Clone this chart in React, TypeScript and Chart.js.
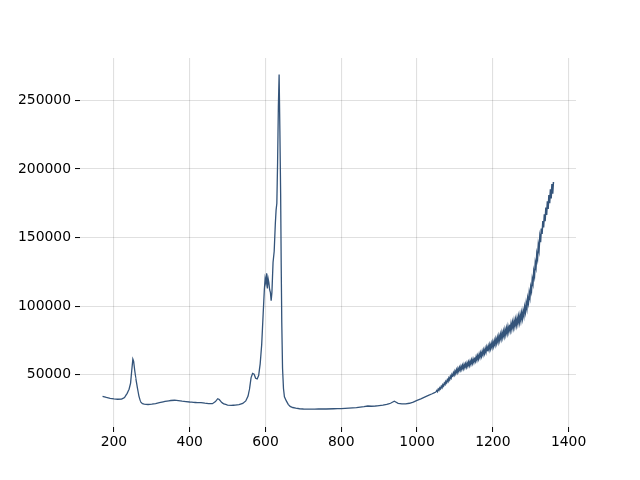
import React, { useEffect, useRef } from "react";
import { Chart, registerables } from "chart.js";

Chart.register(...registerables);

const wavenumber: number[] = [
  170, 180, 190, 200, 210, 220, 228, 235, 240, 244, 247, 250, 252, 255, 258, 262, 266, 270, 275, 280,
  290, 300, 310, 320, 330, 340, 350, 360, 370, 380, 390, 400, 410, 420, 430, 440, 450, 460, 468, 474,
  478, 484, 490, 500, 510, 520, 530, 540, 548, 554, 558, 562, 566, 570, 574, 578, 582, 586, 590, 594,
  597, 599, 601, 603, 605, 607, 609, 611, 613, 615, 617, 620, 623, 626, 628, 630, 632, 634, 636, 638,
  640, 641.5, 643, 645, 647.5, 650, 655, 660, 665, 672, 680, 690, 700, 720, 740, 760, 780, 800, 820, 840,
  860, 870, 880, 890, 900, 910, 920, 930, 936, 940, 945, 950, 960, 970, 980, 990, 1000, 1010, 1020, 1030,
  1040, 1050,
  1052, 1054, 1056, 1058, 1060, 1062, 1064, 1066, 1068, 1070, 1072, 1074, 1076, 1078, 1080, 1082, 1084, 1086, 1088, 1090,
  1092, 1094, 1096, 1098, 1100, 1102, 1104, 1106, 1108, 1110, 1112, 1114, 1116, 1118, 1120, 1122, 1124, 1126, 1128, 1130,
  1132, 1134, 1136, 1138, 1140, 1142, 1144, 1146, 1148, 1150, 1152, 1154, 1156, 1158, 1160, 1162, 1164, 1166, 1168, 1170,
  1172, 1174, 1176, 1178, 1180, 1182, 1184, 1186, 1188, 1190, 1192, 1194, 1196, 1198, 1200, 1202, 1204, 1206, 1208, 1210,
  1212, 1214, 1216, 1218, 1220, 1222, 1224, 1226, 1228, 1230, 1232, 1234, 1236, 1238, 1240, 1242, 1244, 1246, 1248, 1250,
  1252, 1254, 1256, 1258, 1260, 1262, 1264, 1266, 1268, 1270, 1272, 1274, 1276, 1278, 1280, 1282, 1284, 1286, 1288, 1290,
  1292, 1294, 1296, 1298, 1300, 1302, 1304, 1306, 1308, 1310, 1312, 1314, 1316, 1318, 1320, 1322, 1324, 1326, 1328, 1330,
  1332, 1334, 1336, 1338, 1340, 1342, 1344, 1346, 1348, 1350, 1352, 1354, 1356, 1358, 1360,
];

const intensity: number[] = [
  34300, 33500, 32900, 32500, 32200, 32300, 33500, 36500, 39500, 44000, 53000, 61500, 60000, 53000, 47000, 40500, 34500, 30500, 29000, 28600,
  28400, 28600, 29100, 29700, 30300, 30900, 31300, 31500, 31200, 30800, 30500, 30200, 30000, 29700, 29800, 29400, 29100, 29000, 30500, 32600,
  32000, 30000, 28800, 28000, 27700, 28000, 28300, 29200, 31000, 34500, 40000, 48000, 51000, 50500, 47500, 47000, 49500, 58000, 72000, 95000,
  112000, 120000, 117000, 124000, 113000, 120000, 117000, 112000, 110000, 104000, 110000, 132000, 140000, 160000, 170000, 175000, 205000, 245000, 268800, 228000,
  182000, 130000, 88000, 55000, 40000, 34000, 31000, 28500, 27000, 26200, 25700, 25300, 25100, 25000, 25100, 25100, 25300, 25400, 25700, 26100,
  26800, 27300, 27100, 27300, 27600, 27900, 28500, 29300, 30200, 30800, 30000, 29200, 28800, 28900, 29300, 30100, 31400, 32500, 33800, 35000,
  36200, 37500,
  38560, 37820, 39580, 38840, 40500, 39740, 41580, 40720, 42760, 41900, 43900, 43000, 45200, 44200, 46400, 45300, 47600, 46400, 48900, 47700,
  50100, 48800, 51400, 50000, 52600, 50960, 53620, 51780, 54540, 52700, 55340, 53480, 56120, 54060, 56700, 54600, 57400, 55300, 57900, 55800,
  58600, 56500, 59200, 57000, 59800, 57700, 60700, 58500, 61400, 59200, 62300, 60100, 63100, 60800, 63900, 61700, 65000, 62700, 65900, 63600,
  67000, 64700, 68000, 65600, 69000, 66560, 70020, 67480, 70840, 68300, 71840, 69180, 72720, 70060, 73700, 70940, 74780, 72020, 75960, 73100,
  77060, 74120, 78180, 75240, 79400, 76340, 80480, 77320, 81560, 78400, 82760, 79520, 83880, 80540, 85000, 81600, 86100, 82600, 87100, 83500,
  88100, 84500, 89200, 85500, 90200, 86400, 91200, 87400, 92300, 88400, 93500, 89700, 95000, 91100, 96400, 93100, 99300, 95900, 102200, 98600,
  105700, 102500, 109800, 106400, 113900, 111100, 119600, 116600, 125300, 122100, 131400, 128400, 137900, 134700, 144400, 140800, 150500, 146700, 156600, 152600,
  162100, 157300, 167000, 162000, 171900, 166500, 176400, 170800, 181000, 175000, 185100, 178500, 188900, 182000, 190500,
];

const xTicks: number[] = [200, 400, 600, 800, 1000, 1200, 1400];
const yTicks: number[] = [50000, 100000, 150000, 200000, 250000];

export default function App() {
  const ref = useRef<HTMLCanvasElement | null>(null);

  useEffect(() => {
    if (!ref.current) return;
    const points = wavenumber.map((x, i) => ({ x, y: intensity[i] }));
    const font = { family: "DejaVu Sans", size: 13.9 };
    const chart = new Chart(ref.current, {
      type: "line",
      data: {
        datasets: [
          {
            data: points,
            borderColor: "#34547a",
            borderWidth: 1.3,
            pointRadius: 0,
            tension: 0.000001,
            fill: false,
            segment: {
              borderWidth: (ctx: any) => (ctx.p0.parsed.x >= 1050 ? 1.5 : 1.3),
            },
          },
        ],
      },
      options: {
        animation: false,
        responsive: false,
        maintainAspectRatio: false,
        parsing: false as any,
        layout: { padding: { left: 0, top: 58, right: 64, bottom: 0 } },
        plugins: { legend: { display: false }, tooltip: { enabled: false } },
        scales: {
          x: {
            type: "linear",
            min: 110.5,
            max: 1419.5,
            afterBuildTicks: (s: any) => {
              s.ticks = xTicks.map((v) => ({ value: v }));
            },
            afterFit: (s: any) => {
              s.height = 53;
            },
            ticks: {
              color: "#000",
              font,
              padding: 2,
              maxRotation: 0,
              callback: (v: any) => String(v),
            },
            grid: {
              color: "rgba(0,0,0,0.12)",
              lineWidth: 1.1,
              tickColor: "#000",
              tickLength: 5,
              tickWidth: 1,
            },
            border: { display: false },
          },
          y: {
            type: "linear",
            min: 12000,
            max: 280800,
            afterBuildTicks: (s: any) => {
              s.ticks = yTicks.map((v) => ({ value: v }));
            },
            afterFit: (s: any) => {
              s.width = 80;
            },
            ticks: {
              color: "#000",
              font,
              padding: 4,
              callback: (v: any) => String(v),
            },
            grid: {
              color: "rgba(0,0,0,0.12)",
              lineWidth: 1.1,
              tickColor: "#000",
              tickLength: 5,
              tickWidth: 1,
            },
            border: { display: false },
          },
        },
      },
    });
    return () => chart.destroy();
  }, []);

  return (
    <div style={{ position: "absolute", left: 0, top: 0, width: 640, height: 480, background: "#fff" }}>
      <canvas ref={ref} width={640} height={480} style={{ width: 640, height: 480 }} />
    </div>
  );
}
